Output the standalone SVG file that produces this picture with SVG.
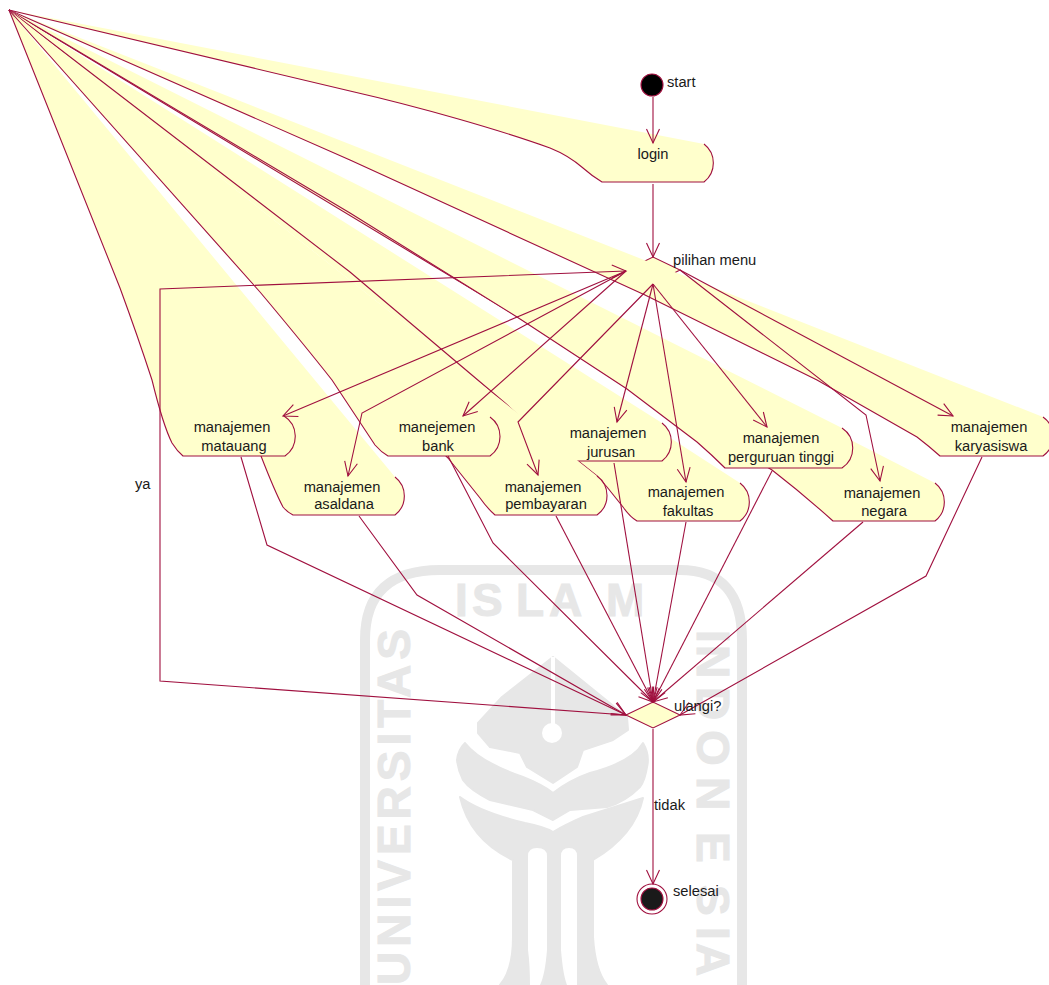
<svg xmlns="http://www.w3.org/2000/svg" width="1049" height="985" viewBox="0 0 1049 985">
<style>
.wm{fill:#e7e7e7;stroke:#e7e7e7;stroke-width:2;stroke-linejoin:round}
.wmt{fill:#e7e7e7;stroke:#e7e7e7;stroke-width:1;font-family:"Liberation Sans",Arial,sans-serif;font-weight:bold;font-size:46px}
.f{fill:#ffffcc;stroke:none}
.s{fill:none;stroke:#a0103f;stroke-width:1.1}
.c{fill:none;stroke:#a0103f;stroke-width:1.1;marker-end:url(#arrow)}
text.t{font-family:"Liberation Sans",Arial,sans-serif;font-size:14.7px;fill:#1a1a1a}
text.m{text-anchor:middle}
</style>
<defs>
<marker id="arrow" markerUnits="userSpaceOnUse" markerWidth="20" markerHeight="20" refX="16" refY="10" orient="auto" overflow="visible">
<path d="M2,3.5 L16,10 L2,16.5" fill="none" stroke="#a0103f" stroke-width="1.1"/>
</marker>
</defs>
<rect width="1049" height="985" fill="#ffffff"/>
<g id="watermark">
<path d="M365,985 L365,640 Q365,570 440,570 L680,570 Q742,570 742,640 L742,985" fill="none" stroke="#e7e7e7" stroke-width="10"/>
<text class="wmt" y="616" x="455 472 516 549 606">ISLAM</text>
<text class="wmt" transform="translate(410,985) rotate(-90)" letter-spacing="5">UNIVERSITAS</text>
<text class="wmt" transform="translate(697,600) rotate(90)" x="30 45 87 130 177 232 285 327 343">INDONESIA</text>
<path class="wm" d="M553,657 L627,717 L628,730 L613,740 L583,750 L577,767 L553,783 L527,767 L520,753 L490,747 L478,733 L478,723 L502,697 Z"/>
<path fill="#ffffff" d="M551,657 h4 v75 h-4 Z"/>
<circle cx="552" cy="733" r="10" fill="#ffffff"/>
<path class="wm" d="M457,760 Q458,750 465,743 Q480,762 523,777 Q543,785 553,793 Q570,780 590,773 Q632,762 643,743 Q650,755 647,767 Q645,780 640,787 Q625,802 607,807 L570,810 L553,820 L533,810 L490,800 Q470,790 463,780 Q458,770 457,760 Z"/>
<path class="wm" d="M460,797 Q480,812 525,823 Q545,827 553,832 Q565,825 583,817 L643,798 Q635,835 593,860 L593,937 Q595,970 607,985 L500,985 Q513,970 513,937 L513,860 Q470,840 460,797 Z"/>
<path fill="#ffffff" d="M528,856 Q528,848 537,848 Q547,848 547,856 L547,950 Q545,975 540,985 L530,985 Q530,965 528,950 Z"/>
<path fill="#ffffff" d="M561,856 Q561,848 569,848 Q577,848 577,856 L577,950 Q577,965 577,985 L567,985 Q563,975 561,950 Z"/>
</g>
<g id="pilihan-menu"><path d="M626,270 L653,257 L680,270 L653,284 Z" fill="#ffffcc" stroke="#a0103f" stroke-width="1.1"/></g>
<g id="login">
<path class="f" d="M9,10 L704,144 A24,24 0 0 1 704,182 L602,182 Q592,176 583,168 C575,161 565,154 550,148 C500,130 420,107 350,91 Z"/>
<path class="s" d="M9,10 L350,91 C420,107 500,130 550,148 C565,154 575,161 583,168 Q592,176 602,182 L704,182 A24,24 0 0 0 704,144"/>
</g>
<g id="manajemen-karyasiswa">
<path class="f" d="M9,10 L1043,417 A24,24 0 0 1 1043,456 L940,456 Q930,447 917,437 L817,380 L645,295 L350,160 Z"/>
<path class="s" d="M9,10 L350,160 L645,295 L817,380 L917,437 Q930,447 940,456 L1043,456 A24,24 0 0 0 1043,417"/>
</g>
<g id="manajemen-negara">
<path class="f" d="M9,10 L935,483 A24,24 0 0 1 935,521 L833,521 Q803,494 772,470 Z"/>
<path class="s" d="M9,10 L772,470 Q803,494 833,521 L935,521 A24,24 0 0 0 935,483"/>
</g>
<g id="manajemen-perguruan-tinggi">
<path class="f" d="M9,10 L842,428 A24,24 0 0 1 842,468 L725,468 Q712,455 697,442 L627,389 L517,317 L350,213 Z"/>
<path class="s" d="M9,10 L350,213 L517,317 L627,389 L697,442 Q712,455 725,468 L842,468 A24,24 0 0 0 842,428"/>
</g>
<g id="manajemen-fakultas">
<path class="f" d="M9,10 L740,483 A24,24 0 0 1 740,521 L637,521 Q630,517 623,507 L607,487 L597,476 Z"/>
<path class="s" d="M490,391 L597,476 L607,487 L623,507 Q630,517 637,521 L740,521 A24,24 0 0 0 740,483"/>
</g>
<g id="manajemen-jurusan">
<path class="f" d="M9,10 L662,423 A24,24 0 0 1 662,461 L560,461 Q553,457 548,450 Q535,430 505,403 L350,272 Z"/>
<path class="s" d="M9,10 L350,272 L505,403 Q535,430 548,450 Q553,457 560,461 L662,461 A24,24 0 0 0 662,423"/>
</g>
<g id="manajemen-pembayaran">
<path class="f" d="M9,10 L597,476 A24,24 0 0 1 597,515 L495,515 Q487,508 480,498 L448,458 Z"/>
<path class="s" d="M9,10 L448,458 L480,498 Q487,508 495,515 L597,515 A24,24 0 0 0 597,476"/>
</g>
<g id="manajemen-asaldana">
<path class="f" d="M9,10 L395,477 A24,24 0 0 1 395,515 L293,515 Q287,512 283,507 Q275,492 261,456 Z"/>
<path class="s" d="M9,10 L261,456 Q275,492 283,507 Q287,512 293,515 L395,515 A24,24 0 0 0 395,477"/>
</g>
<g id="manajemen-matauang">
<path class="f" d="M9,10 L284,416 A24,24 0 0 1 285,456 L183,456 Q177,451 172,443 Q163,425 152,380 Q138,337 120,288 Z"/>
<path class="s" d="M9,10 L120,288 Q138,337 152,380 Q163,425 172,443 Q177,451 183,456 L285,456 A24,24 0 0 0 284,416"/>
</g>
<g id="manejemen-bank">
<path class="f" d="M9,10 L490,417 A24,24 0 0 1 490,456 L388,456 Q381,452 375,445 Q365,430 332,380 Q302,342 260,292 Z"/>
<path class="s" d="M9,10 L260,292 Q302,342 332,380 Q365,430 375,445 Q381,452 388,456 L490,456 A24,24 0 0 0 490,417"/>
</g>
<g id="ulangi"><path d="M626,715 L653,702 L680,715 L653,728 Z" fill="#ffffcc" stroke="#a0103f" stroke-width="1.1"/></g>
<g id="start"><circle cx="652" cy="85" r="11" fill="#000000" stroke="#a0103f" stroke-width="1.1"/></g>
<g id="selesai"><circle cx="652" cy="899" r="15" fill="#ffffff" stroke="#a0103f" stroke-width="1.1"/><circle cx="652" cy="899" r="11" fill="#1a1a1a" stroke="#a0103f" stroke-width="1.1"/></g>
<g id="connectors">
<path class="c" d="M653,97 L653,143"/>
<path class="c" d="M653,184 L653,257"/>
<path class="c" d="M626,271 L283,416"/>
<path class="c" d="M626,271 L362,413 L348,476"/>
<path class="c" d="M626,271 L463,416"/>
<path class="c" d="M653,284 L518,422 L538,475"/>
<path class="c" d="M653,284 L617,422"/>
<path class="c" d="M653,284 L686,482"/>
<path class="c" d="M653,284 L767,427"/>
<path class="c" d="M680,270 L866,415 L880,481"/>
<path class="c" d="M680,270 L953,416"/>
<path class="c" d="M626,715 L160,681 L160,289 L626,271"/>
<path class="c" d="M241,457 L267,545 L626,715"/>
<path class="c" d="M359,516 L417,595 L626,715"/>
<path class="c" d="M448,456 L493,543 L653,702"/>
<path class="c" d="M556,516 L653,702"/>
<path class="c" d="M614,463 L653,702"/>
<path class="c" d="M686,522 L653,702"/>
<path class="c" d="M772,471 L653,702"/>
<path class="c" d="M863,522 L653,702"/>
<path class="c" d="M982,457 L926,576 L680,715"/>
<path class="c" d="M653,729 L653,884"/>
</g>
<g id="labels">
<text class="t" x="667" y="87">start</text>
<text class="t m" x="653" y="159">login</text>
<text class="t" x="673" y="265">pilihan menu</text>
<text class="t m" x="232" y="432">manajemen</text><text class="t m" x="234" y="451">matauang</text>
<text class="t m" x="342" y="492">manajemen</text><text class="t m" x="344" y="509">asaldana</text>
<text class="t m" x="437" y="432">manejemen</text><text class="t m" x="438" y="451">bank</text>
<text class="t m" x="543" y="492">manajemen</text><text class="t m" x="546" y="509">pembayaran</text>
<text class="t m" x="608" y="438">manajemen</text><text class="t m" x="611" y="457">jurusan</text>
<text class="t m" x="686" y="497">manajemen</text><text class="t m" x="688" y="516">fakultas</text>
<text class="t m" x="781" y="443">manajemen</text><text class="t m" x="781" y="462">perguruan tinggi</text>
<text class="t m" x="882" y="498">manajemen</text><text class="t m" x="884" y="516">negara</text>
<text class="t m" x="989" y="432">manajemen</text><text class="t m" x="991" y="451">karyasiswa</text>
<text class="t" x="135" y="489">ya</text>
<text class="t" x="674" y="711">ulangi?</text>
<text class="t" x="654" y="810">tidak</text>
<text class="t" x="673" y="896">selesai</text>
</g>
</svg>
